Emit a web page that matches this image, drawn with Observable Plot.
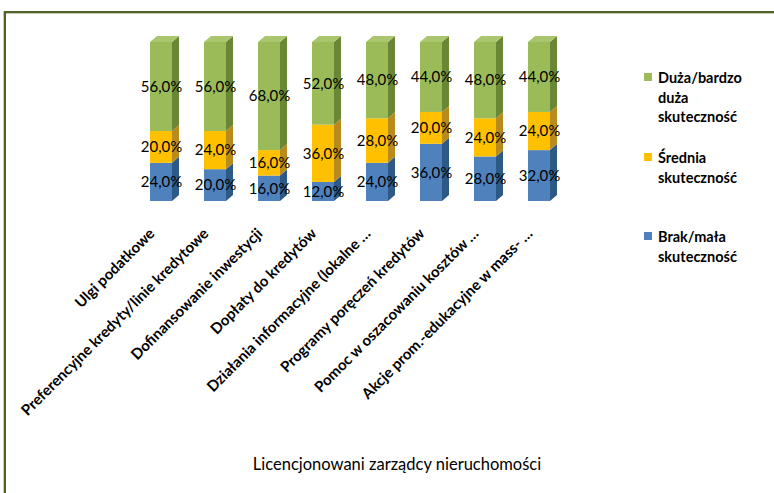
<!DOCTYPE html>
<html><head><meta charset="utf-8">
<script src="https://cdn.jsdelivr.net/npm/d3@7"></script>
<script src="https://cdn.jsdelivr.net/npm/@observablehq/plot@0.6"></script>
<style>
body{margin:0;background:#fff;}
#wrap{position:relative;width:774px;height:493px;overflow:hidden;font-family:Lato,"Open Sans",sans-serif;color:#000;}
#chart{position:absolute;left:0;top:0;}
.bt{position:absolute;left:4px;top:11px;width:780px;height:2px;background:#4f6228;box-shadow:0 1px 0 #c5cdb5;}
.bleft{position:absolute;left:4px;top:11px;width:2px;height:490px;background:#4f6228;box-shadow:-1px 0 0 #c5cdb5;}
#title{position:absolute;left:0;width:794px;top:454px;text-align:center;font-size:16.5px;}
.leg{position:absolute;left:644px;font-size:14.5px;font-weight:bold;line-height:19.5px;}
.leg .sw{position:absolute;left:0;top:5px;width:8px;height:8px;}
.leg .tx{position:absolute;left:14px;white-space:nowrap;}
</style></head><body>
<div id="wrap">
  <div id="chart"></div>
  <div class="bt"></div><div class="bleft"></div>
  <div id="title">Licencjonowani zarządcy nieruchomości</div>
  <div id="legend"></div>
</div>
<script>
const categories = [
  "Ulgi podatkowe",
  "Preferencyjne kredyty/linie kredytowe",
  "Dofinansowanie inwestycji",
  "Dopłaty do kredytów",
  "Działania informacyjne (lokalne …",
  "Programy poręczeń kredytów",
  "Pomoc w oszacowaniu kosztów …",
  "Akcje prom.-edukacyjne w mass- …"
];
const series = ["Brak/mała skuteczność", "Średnia skuteczność", "Duża/bardzo duża skuteczność"];
const brak    = [24, 20, 16, 12, 24, 36, 28, 32];
const srednia = [20, 24, 16, 36, 28, 20, 24, 24];
const duza    = [56, 56, 68, 52, 48, 44, 48, 44];

const frontColors = ["#4f81bd", "#ffc000", "#9bbb59"];
const sideColors  = ["#2c5986", "#b98a1c", "#6a8736"];
const topColors   = ["#6f9bd0", "#ffd24d", "#a9c56d"];

const valuesBySeries = [brak, srednia, duza];
const rows = [];
categories.forEach((c, i) => {
  series.forEach((s, k) => rows.push({cat: c, series: s, value: valuesBySeries[k][i]}));
});

const DX = 7, DY = 6;
function render3d(index, scales, values, dims, context, next) {
  const g = next(index, scales, values, dims, context);
  const bw = scales.x.bandwidth ? scales.x.bandwidth() : 22;
  const ns = "http://www.w3.org/2000/svg";
  const G = document.createElementNS(ns, "g");
  const topY = new Map();
  for (const i of index) {
    const x = values.x[i];
    const yt = Math.min(values.y1[i], values.y2[i]);
    if (!topY.has(x) || yt < topY.get(x)) topY.set(x, yt);
  }
  const back = document.createElementNS(ns, "g");
  for (const i of index) {
    const k = series.indexOf(rows[i].series);
    const x1 = values.x[i], x2 = x1 + bw;
    const yt = Math.min(values.y1[i], values.y2[i]);
    const yb = Math.max(values.y1[i], values.y2[i]);
    const side = document.createElementNS(ns, "polygon");
    side.setAttribute("points", `${x2},${yt} ${x2+DX},${yt-DY} ${x2+DX},${yb-DY} ${x2},${yb}`);
    side.setAttribute("fill", sideColors[k]);
    back.appendChild(side);
    if (yt === topY.get(values.x[i])) {
      const top = document.createElementNS(ns, "polygon");
      top.setAttribute("points", `${x1},${yt} ${x1+DX},${yt-DY} ${x2+DX},${yt-DY} ${x2},${yt}`);
      top.setAttribute("fill", topColors[k]);
      back.appendChild(top);
    }
  }
  G.appendChild(back);
  G.appendChild(g);
  return G;
}

const chart = Plot.plot({
  width: 774, height: 493,
  marginTop: 42, marginBottom: 292, marginLeft: 115, marginRight: 189,
  style: {fontFamily: "Lato, 'Open Sans', sans-serif", background: "transparent", color: "#000"},
  x: {domain: categories, padding: 0.6, axis: null},
  y: {domain: [0, 100], axis: null},
  color: {domain: series, range: frontColors},
  marks: [
    Plot.barY(rows, Plot.stackY({x: "cat", y: "value", fill: "series", z: "series", render: render3d})),
    Plot.text(rows, Plot.stackY({x: "cat", y: "value", z: "series",
      text: d => d.value.toFixed(1).replace(".", ",") + "%", fontSize: 15, fill: "#000"})),
    Plot.text(categories, {x: d => d, frameAnchor: "bottom", rotate: -45, textAnchor: "end",
      dy: 33, dx: -6, fontWeight: "bold", fontSize: 15, fill: "#000"})
  ]
});
document.getElementById("chart").appendChild(chart);

// legend (top series first, as in the original)
const legendTops = [68, 148, 227];
const legendLines = [["Duża/bardzo", "duża", "skuteczność"], ["Średnia", "skuteczność"], ["Brak/mała", "skuteczność"]];
const legend = document.getElementById("legend");
[2, 1, 0].forEach((k, j) => {
  const item = document.createElement("div");
  item.className = "leg";
  item.style.top = legendTops[j] + "px";
  item.innerHTML = `<div class="sw" style="background:${frontColors[k]}"></div><div class="tx">${legendLines[j].join("<br>")}</div>`;
  legend.appendChild(item);
});
</script>
</body></html>
